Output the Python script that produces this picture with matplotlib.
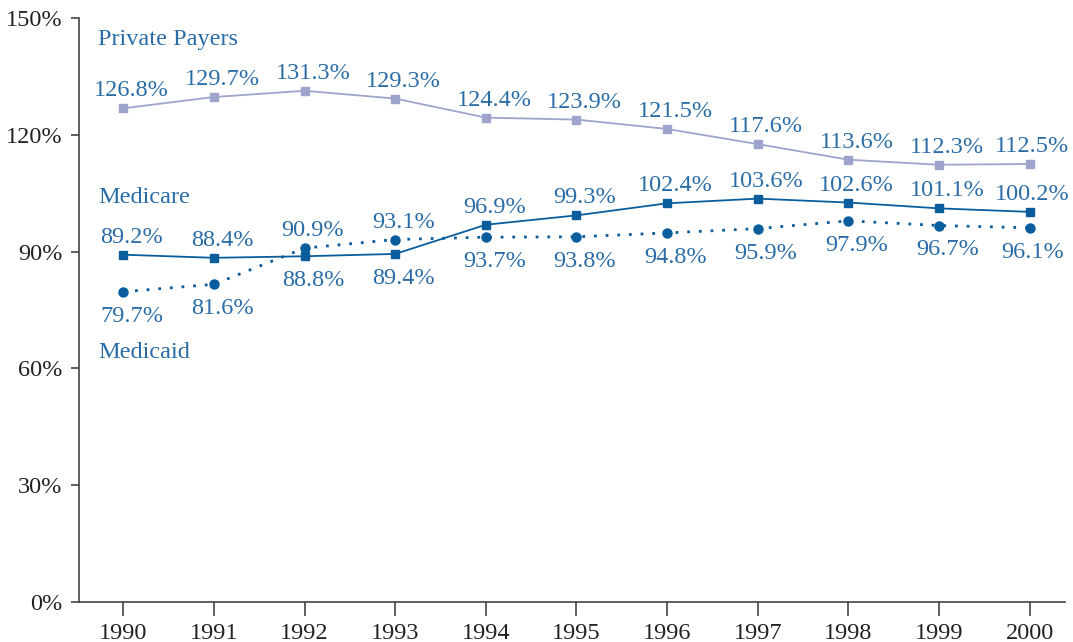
import matplotlib
matplotlib.use("Agg")
import matplotlib.pyplot as plt

years = [1990, 1991, 1992, 1993, 1994, 1995, 1996, 1997, 1998, 1999, 2000]
private = [126.8, 129.7, 131.3, 129.3, 124.4, 123.9, 121.5, 117.6, 113.6, 112.3, 112.5]
medicare = [89.2, 88.4, 88.8, 89.4, 96.9, 99.3, 102.4, 103.6, 102.6, 101.1, 100.2]
medicaid = [79.7, 81.6, 90.9, 93.1, 93.7, 93.8, 94.8, 95.9, 97.9, 96.7, 96.1]
# label placement: 1 = above, -1 = below
private_pos = [1] * 11
medicare_pos = [1, 1, -1, -1, 1, 1, 1, 1, 1, 1, 1]
medicaid_pos = [-1, -1, 1, 1, -1, -1, -1, -1, -1, -1, -1]
yticks = [0, 30, 60, 90, 120, 150]

plt.rcParams['font.family'] = ['Liberation Serif', 'DejaVu Serif']

fig = plt.figure(figsize=(10.73, 6.42), dpi=100)
ax = fig.add_axes([0.0736, 0.0623, 0.9189, 0.9097])

c_priv = '#9ea4cc'
c_mc = '#0a5d9c'
c_text = '#2a6ca6'

ax.plot(years, private, color=c_priv, lw=1.3, marker='s', ms=6, mec=c_priv, mfc=c_priv)
ax.plot(years, medicare, color=c_mc, lw=1.3, marker='s', ms=6, mec=c_mc, mfc=c_mc)
ax.plot(years, medicaid, color=c_mc, lw=2.0, linestyle=(0, (1, 3.2)), marker='o', ms=6.5,
        mec=c_mc, mfc=c_mc)

fs = 17.5
for series, pos in [(private, private_pos), (medicare, medicare_pos), (medicaid, medicaid_pos)]:
    for i, (x, v, p) in enumerate(zip(years, series, pos)):
        dx = 6 if i < len(years) - 1 else 2
        if p > 0:
            ax.annotate(f"{v:.1f}%", (x, v), xytext=(dx, 5), textcoords='offset points',
                        ha='center', va='bottom', color=c_text, fontsize=fs)
        else:
            ax.annotate(f"{v:.1f}%", (x, v), xytext=(dx, -10), textcoords='offset points',
                        ha='center', va='top', color=c_text, fontsize=fs)

ax.text(1989.72, 144.4, "Private Payers", color=c_text, fontsize=fs, ha='left', va='center')
ax.text(1989.72, 103.8, "Medicare", color=c_text, fontsize=fs, ha='left', va='center')
ax.text(1989.72, 64.0, "Medicaid", color=c_text, fontsize=fs, ha='left', va='center')

ax.set_xlim(1989.51, 2000.39)
ax.set_ylim(0, 150)
ax.set_xticks(years)
ax.set_xticklabels([str(y) for y in years])
ax.set_yticks(yticks)
ax.set_yticklabels([f"{t}%" for t in yticks])
for s in ['top', 'right']:
    ax.spines[s].set_visible(False)
for s in ['left', 'bottom']:
    ax.spines[s].set_color('#444444')
    ax.spines[s].set_linewidth(1.2)
ax.tick_params(axis='x', length=10, width=1.2, color='#444444', labelsize=fs, pad=5, labelcolor='#222222')
ax.tick_params(axis='y', length=6, width=1.2, color='#444444', labelsize=fs, pad=6, labelcolor='#222222')

fig.savefig('out.png', dpi=100)
